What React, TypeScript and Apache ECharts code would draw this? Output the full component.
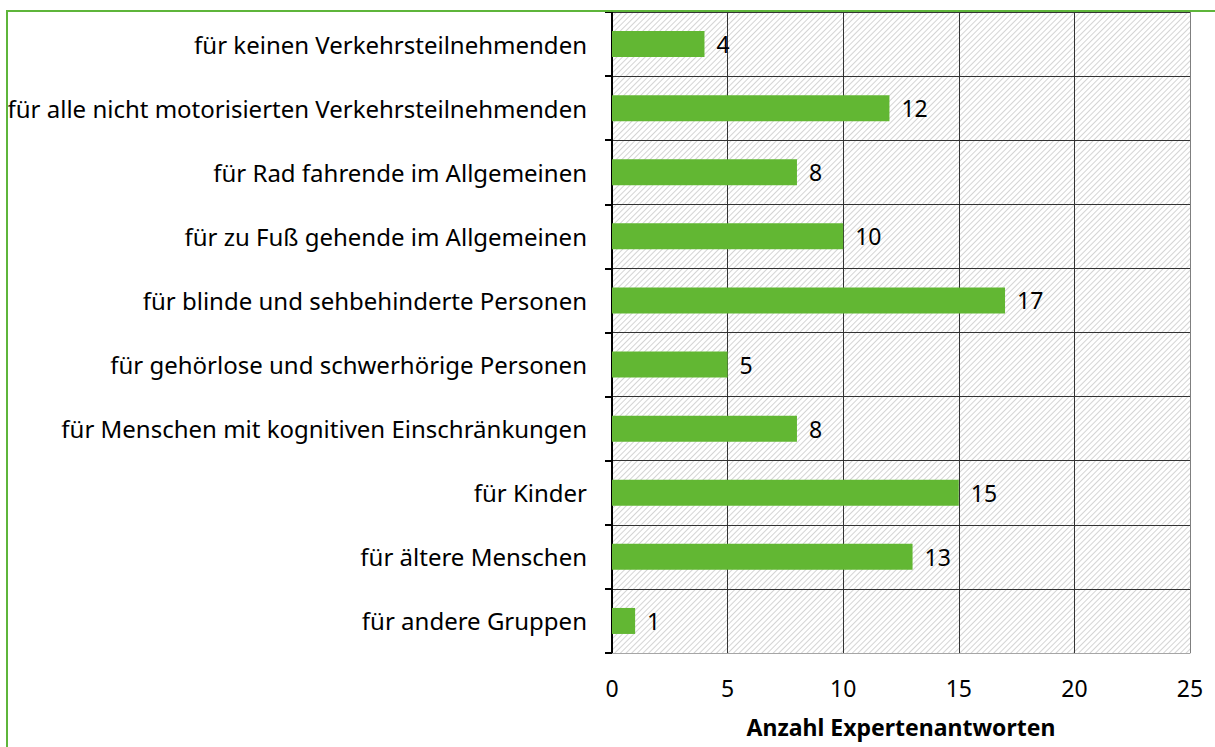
import React, { useEffect, useRef } from "react";
import * as echarts from "echarts";

const categories = [
  "für keinen Verkehrsteilnehmenden",
  "für alle nicht motorisierten Verkehrsteilnehmenden",
  "für Rad fahrende im Allgemeinen",
  "für zu Fuß gehende im Allgemeinen",
  "für blinde und sehbehinderte Personen",
  "für gehörlose und schwerhörige Personen",
  "für Menschen mit kognitiven Einschränkungen",
  "für Kinder",
  "für ältere Menschen",
  "für andere Gruppen",
];
const values = [4, 12, 8, 10, 17, 5, 8, 15, 13, 1];
const xMax = 25;
const xInterval = 5;
const xAxisName = "Anzahl Expertenantworten";

const FONT = "Noto Sans";
const GREEN = "#62b733";

export default function App() {
  const ref = useRef<HTMLDivElement>(null);
  useEffect(() => {
    document.body.style.margin = "0";
    const chart = echarts.init(ref.current!, null, { renderer: "svg" });
    chart.setOption({
      animation: false,
      backgroundColor: "#fff",
      grid: { left: 612, right: 25, top: 12, bottom: 94, containLabel: false },
      graphic: [
        {
          type: "rect",
          shape: { x: 7, y: 11, width: 1300, height: 800 },
          style: { fill: "none", stroke: "#5eb53a", lineWidth: 2 },
          silent: true,
          z: 100,
        },
      ],
      xAxis: {
        type: "value",
        min: 0,
        max: xMax,
        interval: xInterval,
        name: xAxisName,
        nameLocation: "middle",
        nameGap: 62,
        nameTextStyle: { fontFamily: FONT, fontSize: 23, fontWeight: "bold", color: "#000" },
        axisLine: { show: true, lineStyle: { color: "#a6a6a6", width: 1 } },
        axisTick: { show: false },
        axisLabel: { fontFamily: FONT, fontSize: 23, color: "#000", margin: 23 },
        splitLine: {
          show: true,
          lineStyle: { color: ["#000", "#333", "#333", "#333", "#333", "#7f7f7f"], width: 1 },
        },
        z: 1,
      },
      yAxis: [
        {
          type: "category",
          data: categories,
          inverse: true,
          axisLine: { show: true, lineStyle: { color: "#000", width: 2 } },
          axisTick: { show: true, length: 7, lineStyle: { color: "#000", width: 2 } },
          axisLabel: { fontFamily: FONT, fontSize: 24, color: "#000", margin: 25 },
          splitLine: { show: true, lineStyle: { color: "#333", width: 1 } },
          z: 1,
        },
        {
          type: "category",
          data: categories,
          inverse: true,
          show: false,
          position: "left",
        },
      ],
      series: [
        {
          type: "bar",
          yAxisIndex: 1,
          data: categories.map(() => xMax),
          barWidth: "100%",
          silent: true,
          z: -1,
          itemStyle: {
            color: "#fff",
            decal: {
              symbol: "rect",
              symbolSize: 1,
              color: "#d4d4d4",
              dashArrayX: [1, 0],
              dashArrayY: [1, 3],
              rotation: -Math.PI / 4,
            },
          },
        },
        {
          type: "bar",
          yAxisIndex: 0,
          data: values,
          barWidth: 26,
          z: 3,
          itemStyle: { color: GREEN },
          label: {
            show: true,
            position: "right",
            distance: 12,
            fontFamily: FONT,
            fontSize: 23,
            color: "#000",
          },
        },
      ],
    });
    return () => chart.dispose();
  }, []);
  return <div ref={ref} style={{ width: 1215, height: 747 }} />;
}
